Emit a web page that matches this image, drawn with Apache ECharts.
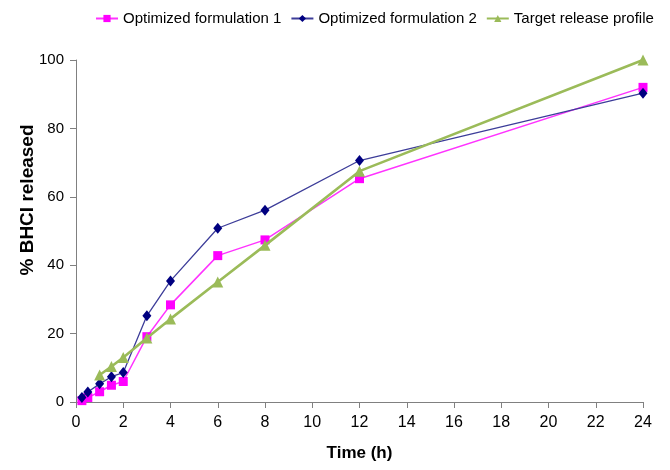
<!DOCTYPE html>
<html><head><meta charset="utf-8">
<script src="https://cdn.jsdelivr.net/npm/echarts@6/dist/echarts.min.js"></script>
<style>html,body{margin:0;padding:0;background:#fff}#c{width:670px;height:470px}</style>
</head><body><div id="c"></div>
<script>
var FONT = "'Liberation Sans Narrow','Arial Narrow','Liberation Sans',Arial,sans-serif";
var seriesNames = ['Optimized formulation 1', 'Optimized formulation 2', 'Target release profile'];
var timeF1 = [0.25, 0.5, 1, 1.5, 2, 3, 4, 6, 8, 12, 24];
var releaseF1 = [0.4, 1.3, 3.0, 4.9, 6.0, 19.1, 28.4, 42.8, 47.4, 65.3, 92.0];
var timeF2 = [0.25, 0.5, 1, 1.5, 2, 3, 4, 6, 8, 12, 24];
var releaseF2 = [1.3, 2.9, 5.3, 7.4, 8.6, 25.2, 35.4, 50.8, 56.1, 70.6, 90.3];
var timeTarget = [1, 1.5, 2, 3, 4, 6, 8, 12, 24];
var releaseTarget = [7.9, 10.4, 13.0, 18.7, 24.3, 35.1, 45.8, 67.5, 100];
var xTicks = [0, 2, 4, 6, 8, 10, 12, 14, 16, 18, 20, 22, 24];
var yTicks = [0, 20, 40, 60, 80, 100];

function pairs(xs, ys) { return xs.map(function (x, i) { return [x, ys[i]]; }); }

var chart = echarts.init(document.getElementById('c'), null, {renderer: 'canvas'});
chart.setOption({
  backgroundColor: '#ffffff',
  animation: false,
  legend: {
    top: 6, left: 90, right: 0,
    itemWidth: 22, itemHeight: 9, itemGap: 9,
    textStyle: {fontFamily: FONT, fontSize: 15, color: '#000'},
    data: seriesNames
  },
  grid: {left: 76, right: 27, top: 60, bottom: 68},
  xAxis: {
    type: 'value', min: xTicks[0], max: xTicks[xTicks.length - 1], interval: 2,
    axisLine: {lineStyle: {color: '#808080', width: 1}},
    axisTick: {show: true, inside: false, length: 6, lineStyle: {color: '#808080'}},
    splitLine: {show: false},
    axisLabel: {fontFamily: FONT, fontSize: 16, color: '#000', margin: 13},
    name: 'Time (h)', nameLocation: 'middle', nameGap: 43,
    nameTextStyle: {fontFamily: FONT, fontSize: 17, fontWeight: 'bold', color: '#000'}
  },
  yAxis: {
    type: 'value', min: yTicks[0], max: yTicks[yTicks.length - 1], interval: 20,
    axisLine: {show: true, lineStyle: {color: '#808080', width: 1}},
    axisTick: {show: true, inside: false, length: 6, lineStyle: {color: '#808080'}},
    splitLine: {show: false},
    axisLabel: {fontFamily: FONT, fontSize: 15, color: '#000', margin: 12}
  },
  graphic: [{
    type: 'text', x: 28, y: 200, rotation: Math.PI / 2,
    style: {text: '% BHCI released', fontFamily: FONT, fontSize: 19, fontWeight: 'bold',
            fill: '#000', textAlign: 'center', textVerticalAlign: 'middle'}
  }],
  series: [
    {
      name: seriesNames[0], type: 'line', data: pairs(timeF1, releaseF1),
      symbol: 'rect', symbolSize: 9, color: '#ff00ff',
      lineStyle: {color: '#ff33ff', width: 1.5},
      itemStyle: {color: '#ff00ff'}, z: 2
    },
    {
      name: seriesNames[1], type: 'line', data: pairs(timeF2, releaseF2),
      symbol: 'diamond', symbolSize: [9, 11], color: '#000080',
      lineStyle: {color: '#3d3d99', width: 1.3},
      itemStyle: {color: '#000080'}, z: 3
    },
    {
      name: seriesNames[2], type: 'line', data: pairs(timeTarget, releaseTarget),
      symbol: 'triangle', symbolSize: 11, color: '#9bbb59',
      lineStyle: {color: '#9bbb59', width: 2.6},
      itemStyle: {color: '#9bbb59'}, z: 4
    }
  ]
});
</script></body></html>
